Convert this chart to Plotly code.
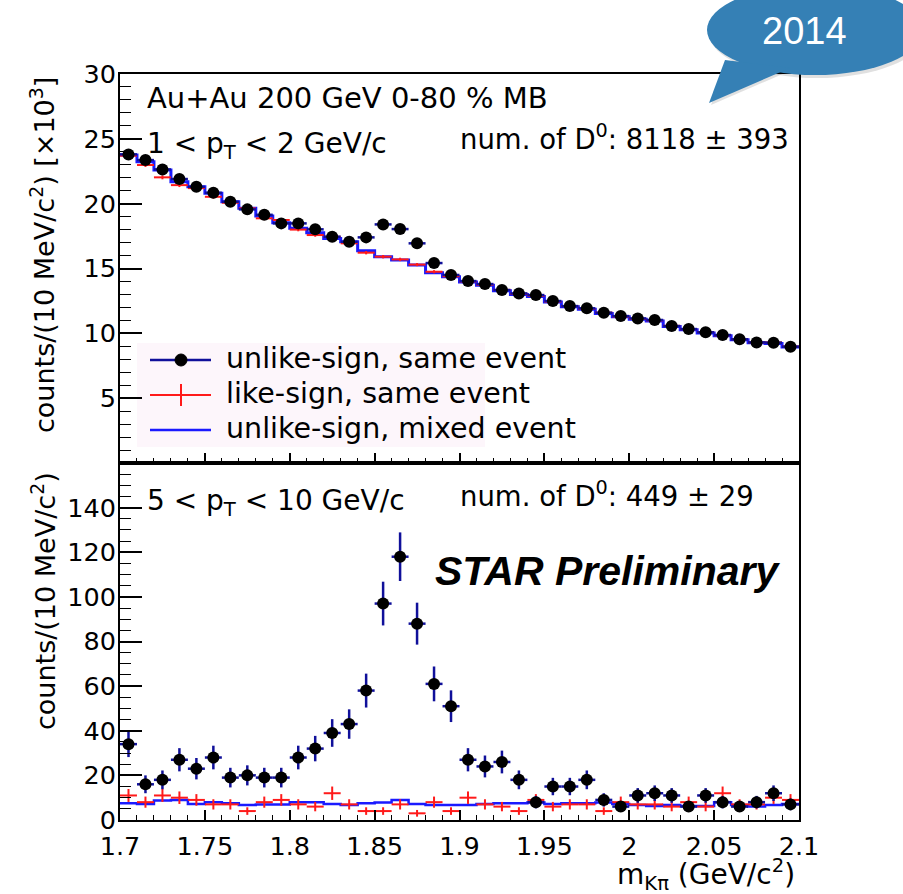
import numpy as np
import plotly.graph_objects as go

# ---------------------------------------------------------------------------
# K-pi invariant mass spectra, Au+Au 200 GeV 0-80 % MB (10 MeV/c^2 bins)
# ---------------------------------------------------------------------------
m_lo, m_hi, bin_w = 1.7, 2.1, 0.01
edges = np.round(np.arange(m_lo, m_hi + bin_w / 2, bin_w), 4)
centers = np.round(0.5 * (edges[:-1] + edges[1:]), 4)

# 1 < pT < 2 GeV/c, counts in units of 10^3
low_pt_unlike = [23.80, 23.36, 22.64, 21.90, 21.30, 20.84, 20.15, 19.56, 19.14, 18.48,
                 18.48, 18.02, 17.45, 17.06, 17.40, 18.40, 18.04, 16.94, 15.42, 14.50,
                 14.03, 13.80, 13.34, 13.08, 12.95, 12.49, 12.10, 11.93, 11.59, 11.33,
                 11.15, 11.03, 10.56, 10.33, 10.08, 9.87, 9.54, 9.30, 9.28, 8.97]
low_pt_unlike_err = [0.15, 0.15, 0.15, 0.15, 0.15, 0.14, 0.14, 0.14, 0.14, 0.14,
                     0.14, 0.13, 0.13, 0.13, 0.13, 0.14, 0.13, 0.13, 0.12, 0.12,
                     0.12, 0.12, 0.12, 0.11, 0.11, 0.11, 0.11, 0.11, 0.11, 0.11,
                     0.11, 0.11, 0.10, 0.10, 0.10, 0.10, 0.10, 0.10, 0.10, 0.09]
low_pt_like = [23.70, 22.98, 22.03, 21.43, 21.20, 20.53, 20.07, 19.64, 18.87, 18.74,
               18.00, 17.58, 17.45, 16.94, 16.22, 15.91, 15.70, 15.30, 14.75, 14.40,
               14.00, 13.75, 13.35, 13.05, 12.90, 12.45, 12.10, 11.90, 11.60, 11.30,
               11.12, 11.00, 10.58, 10.32, 10.10, 9.85, 9.55, 9.30, 9.30, 8.98]
low_pt_like_err = [0.15, 0.15, 0.15, 0.15, 0.15, 0.14, 0.14, 0.14, 0.14, 0.14,
                   0.13, 0.13, 0.13, 0.13, 0.13, 0.13, 0.13, 0.12, 0.12, 0.12,
                   0.12, 0.12, 0.12, 0.11, 0.11, 0.11, 0.11, 0.11, 0.11, 0.11,
                   0.11, 0.10, 0.10, 0.10, 0.10, 0.10, 0.10, 0.10, 0.10, 0.09]
low_pt_mixed = [23.75, 23.23, 22.59, 21.69, 21.30, 20.80, 20.15, 19.64, 19.04, 18.53,
                18.10, 17.76, 17.32, 17.06, 16.37, 15.91, 15.65, 15.27, 14.67, 14.37,
                13.95, 13.70, 13.28, 13.00, 12.85, 12.42, 12.05, 11.85, 11.52, 11.28,
                11.08, 10.95, 10.52, 10.28, 10.03, 9.82, 9.50, 9.27, 9.22, 8.94]

# 5 < pT < 10 GeV/c, raw counts
high_pt_unlike = [34, 16, 18, 27, 23, 28, 19, 20, 19, 19,
                  28, 32, 39, 43, 58, 97, 118, 88, 61, 51,
                  27, 24, 26, 18, 8, 15, 15, 18, 9, 6,
                  11, 12, 11, 6, 11, 8, 6, 8, 12, 7]
high_pt_unlike_err = [5.8, 4.0, 4.2, 5.2, 4.8, 5.3, 4.4, 4.5, 4.4, 4.4,
                      5.3, 5.7, 6.2, 6.6, 7.6, 9.8, 10.9, 9.4, 7.8, 7.1,
                      5.2, 4.9, 5.1, 4.2, 2.8, 3.9, 3.9, 4.2, 3.0, 2.4,
                      3.3, 3.5, 3.3, 2.4, 3.3, 2.8, 2.4, 2.8, 3.5, 2.6]
high_pt_like = [11, 8, 11, 10, 9, 7, 7, 4, 8, 9,
                7, 6, 12, 7, 4, 4, 7, 3, 8, 4,
                10, 7, 6, 4, 9, 6, 7, 7, 4, 8,
                7, 7, 6, 8, 6, 12, 7, 7, 10, 9]
high_pt_like_err = [2.9, 2.5, 2.9, 2.8, 2.6, 2.3, 2.3, 1.7, 2.5, 2.6,
                    2.3, 2.1, 3.0, 2.3, 1.7, 1.7, 2.3, 1.5, 2.5, 1.7,
                    2.8, 2.3, 2.1, 1.7, 2.6, 2.1, 2.3, 2.3, 1.7, 2.5,
                    2.3, 2.3, 2.1, 2.5, 2.1, 3.0, 2.3, 2.3, 2.8, 2.6]
high_pt_mixed = [7.5, 7.2, 8.7, 9.0, 7.2, 7.9, 7.5, 6.7, 7.0, 7.0,
                 7.9, 7.9, 7.2, 6.7, 7.5, 7.8, 9.0, 7.2, 6.7, 6.7,
                 6.7, 7.2, 7.5, 7.5, 7.8, 7.2, 7.5, 7.5, 7.8, 7.2,
                 6.7, 6.3, 6.7, 6.3, 6.3, 7.9, 6.7, 6.0, 6.7, 7.2]

x_tick_vals = [1.7, 1.75, 1.8, 1.85, 1.9, 1.95, 2.0, 2.05, 2.1]
x_tick_text = ["1.7", "1.75", "1.8", "1.85", "1.9", "1.95", "2", "2.05", "2.1"]
top_y_ticks = [5, 10, 15, 20, 25, 30]
bot_y_ticks = [0, 20, 40, 60, 80, 100, 120, 140]

# ---------------------------------------------------------------------------
W, H = 903, 894
FRAME_L, FRAME_R = 120, 799
TOP_T, SPLIT, BOT_B = 74, 463, 820


def px(x):
    return x / W


def py(y):
    return 1 - y / H


NAVY = "#10109a"
RED = "#ff1a1a"
BLUE = "#1a1aff"
TXT = "DejaVu Sans"
HELV = "Liberation Sans"


def step_xy(values):
    return list(edges), list(values) + [values[-1]]


def add_panel(fig, unlike, unlike_err, like, like_err, mixed, xa, ya, lw):
    sx, sy = step_xy(mixed)
    fig.add_trace(go.Scatter(x=sx, y=sy, mode="lines", line=dict(color=BLUE, width=lw, shape="hv"),
                             xaxis=xa, yaxis=ya, showlegend=False, hoverinfo="skip"))
    fig.add_trace(go.Scatter(x=centers, y=like, mode="markers",
                             marker=dict(size=1, color=RED),
                             error_x=dict(type="constant", value=bin_w / 2, width=0, thickness=2, color=RED),
                             error_y=dict(type="data", array=like_err, width=0, thickness=2, color=RED),
                             xaxis=xa, yaxis=ya, showlegend=False))
    fig.add_trace(go.Scatter(x=centers, y=unlike, mode="markers",
                             marker=dict(size=12, color="black", symbol="circle"),
                             error_x=dict(type="constant", value=bin_w / 2, width=0, thickness=2.5, color=NAVY),
                             error_y=dict(type="data", array=unlike_err, width=0, thickness=2.5, color=NAVY),
                             xaxis=xa, yaxis=ya, showlegend=False))


fig = go.Figure()
add_panel(fig, low_pt_unlike, low_pt_unlike_err, low_pt_like, low_pt_like_err, low_pt_mixed, "x", "y", 3)
add_panel(fig, high_pt_unlike, high_pt_unlike_err, high_pt_like, high_pt_like_err, high_pt_mixed, "x2", "y2", 2.5)

axis_common = dict(showline=True, linewidth=2, linecolor="black", mirror=True, automargin=False,
                   showgrid=False, zeroline=False, ticks="inside", tickcolor="black",
                   tickfont=dict(family=TXT, size=25.5, color="black"))

x_dom = [px(FRAME_L), px(FRAME_R)]
fig.update_layout(
    width=W, height=H,
    margin=dict(l=0, r=0, t=0, b=0),
    paper_bgcolor="white", plot_bgcolor="white",
    xaxis=dict(domain=x_dom, range=[m_lo, m_hi], anchor="y", showticklabels=False,
               tickmode="array", tickvals=x_tick_vals, ticklen=10, tickwidth=1.5,
               minor=dict(ticks="inside", dtick=bin_w, tick0=m_lo, ticklen=5, tickwidth=1.2, tickcolor="black"),
               **axis_common),
    yaxis=dict(domain=[py(SPLIT), py(TOP_T)], range=[0, 30], anchor="x",
               tickmode="array", tickvals=top_y_ticks, ticktext=[str(v) for v in top_y_ticks],
               ticklen=22, tickwidth=1.5, ticklabelstandoff=-3,
               minor=dict(ticks="inside", dtick=1, tick0=0, ticklen=11, tickwidth=1.2, tickcolor="black"),
               **axis_common),
    xaxis2=dict(domain=x_dom, range=[m_lo, m_hi], anchor="y2",
                tickmode="array", tickvals=x_tick_vals, ticktext=x_tick_text,
                ticklen=10, tickwidth=1.5, ticklabelstandoff=2,
                minor=dict(ticks="inside", dtick=bin_w, tick0=m_lo, ticklen=5, tickwidth=1.2, tickcolor="black"),
                **axis_common),
    yaxis2=dict(domain=[py(BOT_B), py(SPLIT)], range=[0, 160], anchor="x2",
                tickmode="array", tickvals=bot_y_ticks, ticktext=[str(v) for v in bot_y_ticks],
                ticklen=22, tickwidth=1.5, ticklabelstandoff=-3,
                minor=dict(ticks="inside", dtick=5, tick0=0, ticklen=11, tickwidth=1.2, tickcolor="black"),
                **axis_common),
)

# Text labels
def label(text, x, y, size=29, xanchor="left", family=TXT, angle=0, color="black"):
    fig.add_annotation(text=text, x=px(x), y=py(y), xref="paper", yref="paper",
                       xanchor=xanchor, yanchor="middle", showarrow=False, textangle=angle,
                       font=dict(family=family, size=size, color=color))


label("Au+Au 200 GeV 0-80 % MB", 145, 98)
label("1 &lt; p<sub>T</sub> &lt; 2 GeV/c", 145, 145, size=28)
label("num. of D<sup>0</sup>: 8118 ± 393", 458, 137, size=27.5)
label("5 &lt; p<sub>T</sub> &lt; 10 GeV/c", 145, 502, size=28)
label("num. of D<sup>0</sup>: 449 ± 29", 458, 494, size=27.5)
label("<b><i>STAR Preliminary</i></b>", 433, 571, size=41, family=HELV)
label("m<sub>Kπ</sub> (GeV/c<sup>2</sup>)", 797, 874, size=28, xanchor="right")
label("counts/(10 MeV/c<sup>2</sup>) [×10<sup>3</sup>]", 43, 255, size=27, xanchor="center", angle=-90)
label("counts/(10 MeV/c<sup>2</sup>)", 43, 601, size=27, xanchor="center", angle=-90)

# Legend block
shapes = [
    dict(type="rect", xref="paper", yref="paper", x0=px(137), x1=px(485), y0=py(447), y1=py(343),
         fillcolor="#fdf6fb", line=dict(width=0), layer="below"),
    dict(type="line", xref="paper", yref="paper", x0=px(150), x1=px(211), y0=py(360), y1=py(360),
         line=dict(color=NAVY, width=2.5)),
    dict(type="circle", xref="paper", yref="paper", x0=px(175), x1=px(187), y0=py(366), y1=py(354),
         fillcolor="black", line=dict(color="black", width=1)),
    dict(type="line", xref="paper", yref="paper", x0=px(150), x1=px(211), y0=py(395), y1=py(395),
         line=dict(color=RED, width=2)),
    dict(type="line", xref="paper", yref="paper", x0=px(181), x1=px(181), y0=py(384), y1=py(406),
         line=dict(color=RED, width=2)),
    dict(type="line", xref="paper", yref="paper", x0=px(150), x1=px(211), y0=py(430), y1=py(430),
         line=dict(color=BLUE, width=2.5)),
]
for s in shapes:
    fig.add_shape(**s)
label("unlike-sign, same event", 224, 358, size=28.5)
label("like-sign, same event", 224, 393, size=28.5)
label("unlike-sign, mixed event", 224, 428, size=28.5)

# Year call-out bubble
BUBBLE = "#3580b5"
fig.add_shape(type="circle", xref="paper", yref="paper", x0=px(709), x1=px(925), y0=py(78), y1=py(-12),
              fillcolor="rgba(0,0,0,0.12)", line=dict(width=0), layer="above")
fig.add_shape(type="path", xref="paper", yref="paper", layer="above",
              path=f"M {px(727)},{py(62)} L {px(711)},{py(105)} L {px(792)},{py(70)} Z",
              fillcolor="rgba(0,0,0,0.12)", line=dict(width=0))
fig.add_shape(type="circle", xref="paper", yref="paper", x0=px(707), x1=px(923), y0=py(75), y1=py(-15),
              fillcolor=BUBBLE, line=dict(width=0), layer="above")
fig.add_shape(type="path", xref="paper", yref="paper", layer="above",
              path=f"M {px(725)},{py(60)} L {px(709)},{py(103)} L {px(790)},{py(68)} Z",
              fillcolor=BUBBLE, line=dict(width=0))
label("2014", 804, 31, size=38, xanchor="center", family=HELV, color="white")

fig.write_html("out.html")
